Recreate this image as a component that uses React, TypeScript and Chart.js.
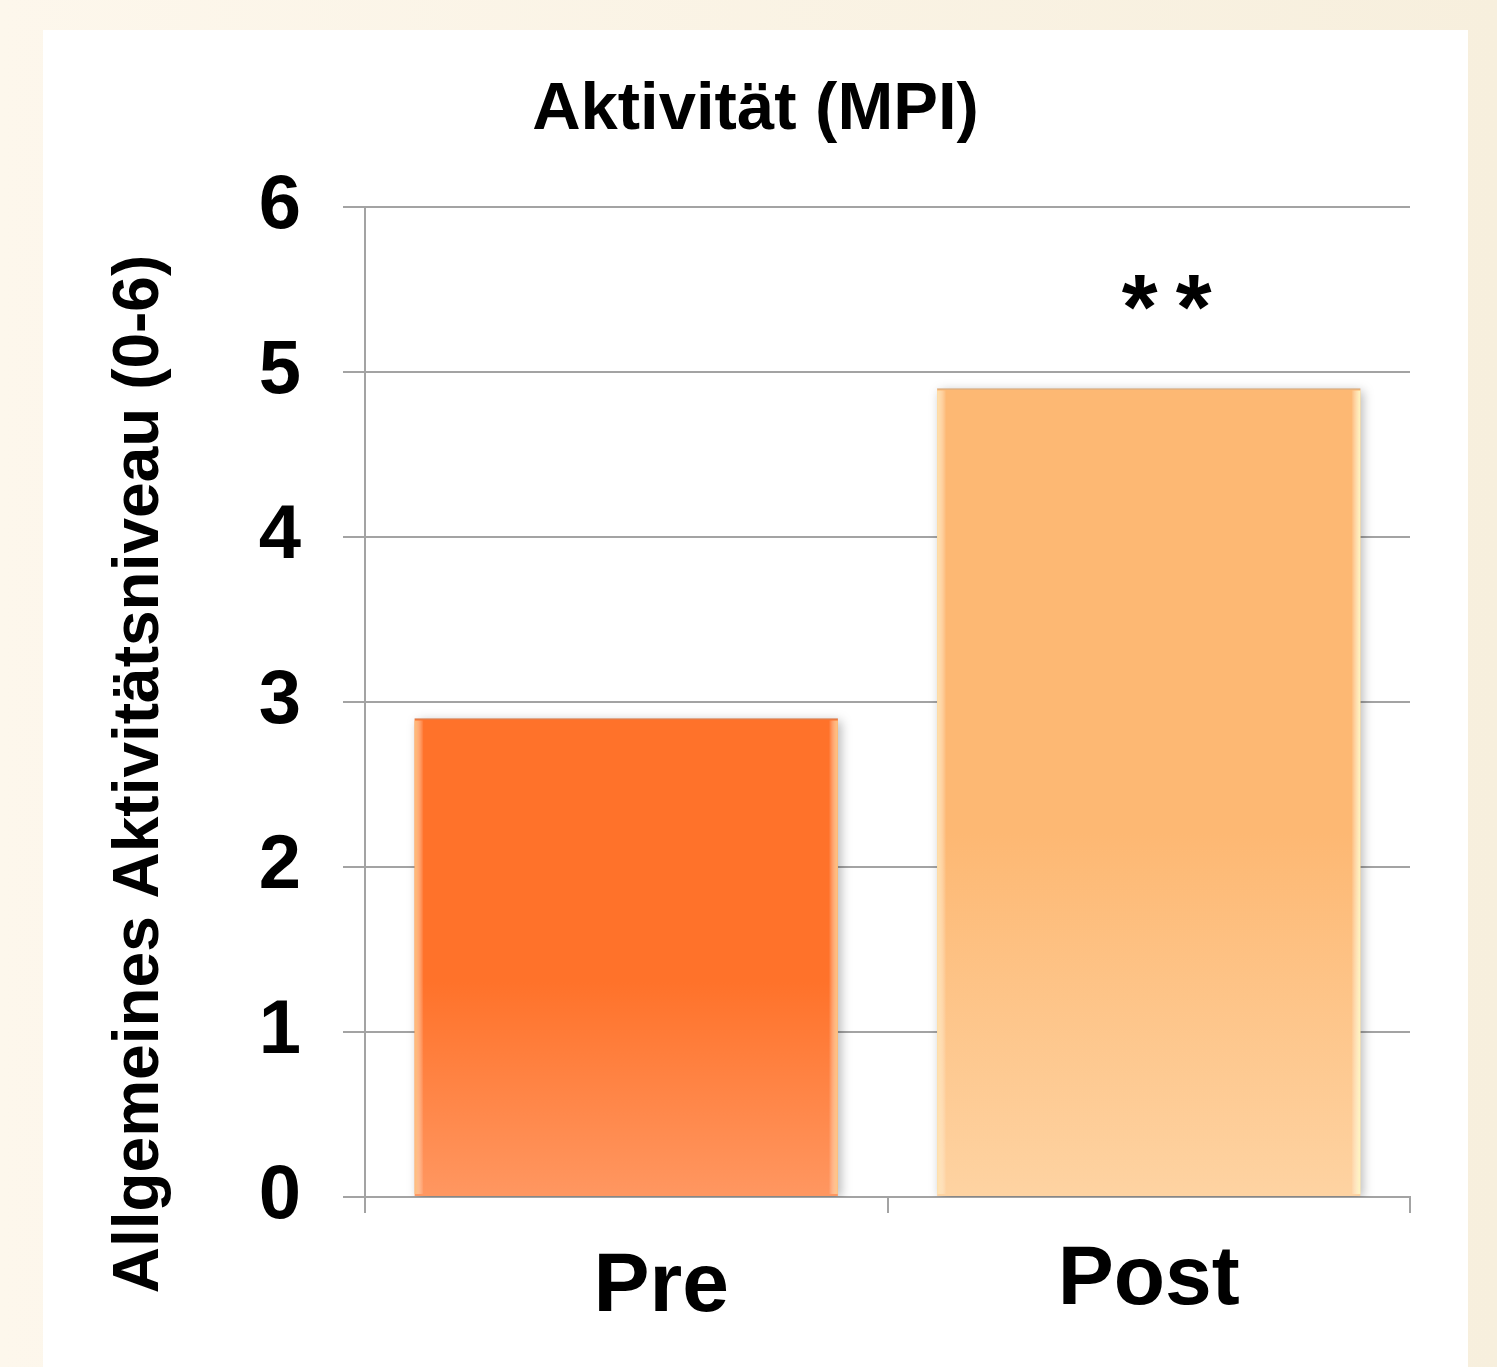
import { useEffect, useRef } from "react";
import { Chart, registerables } from "chart.js";

Chart.register(...registerables);

// ---- data ----
const CATEGORIES = ["Pre", "Post"];
const ACTIVITY = [2.9, 4.9];
const SIGNIFICANCE = ["", "**"];
const Y_TICKS = [0, 1, 2, 3, 4, 5, 6];
const CHART_TITLE = "Aktivität (MPI)";
const Y_TITLE = "Allgemeines Aktivitätsniveau (0-6)";

// ---- styling ----
const FONT = "'Liberation Sans', Arial, Helvetica, sans-serif";
const BAR_TOP = ["#ff722a", "#fdb873"];
const BAR_BOTTOM = ["#ff9761", "#fed3a2"];
const EDGE_LEFT = ["rgba(255,190,120,0.95)", "rgba(255,225,170,0.95)"];
const EDGE_RIGHT = ["rgba(255,200,130,0.95)", "rgba(255,246,190,1)"];
const GRID = "#a3a3a3";
// small per-label nudges of the category captions [dx, dy] in px
const LABEL_NUDGE = [
  [35, 3],
  [0, -4],
];

const barGradient = (chart: any, i: number) => {
  const { ctx, chartArea, scales } = chart;
  if (!chartArea || !scales.y) return BAR_TOP[i];
  const top = scales.y.getPixelForValue(ACTIVITY[i]);
  const base = scales.y.getPixelForValue(0);
  const g = ctx.createLinearGradient(0, top, 0, base);
  g.addColorStop(0, BAR_TOP[i]);
  g.addColorStop(0.55, BAR_TOP[i]);
  g.addColorStop(1, BAR_BOTTOM[i]);
  return g;
};

const decorPlugin = {
  id: "decor",
  beforeDatasetsDraw(chart: any) {
    const ctx = chart.ctx;
    ctx.save();
    ctx.shadowColor = "rgba(0,0,0,0.28)";
    ctx.shadowBlur = 10;
    ctx.shadowOffsetX = 3;
    ctx.shadowOffsetY = 2;
  },
  afterDatasetsDraw(chart: any) {
    const ctx = chart.ctx;
    ctx.restore();
    const meta = chart.getDatasetMeta(0);
    meta.data.forEach((bar: any, i: number) => {
      const { x, y, base, width } = bar.getProps(["x", "y", "base", "width"], true);
      const l = x - width / 2;
      const r = x + width / 2;
      const w = 9;
      ctx.save();
      let g = ctx.createLinearGradient(l, 0, l + w, 0);
      g.addColorStop(0, EDGE_LEFT[i]);
      g.addColorStop(1, "rgba(255,255,255,0)");
      ctx.fillStyle = g;
      ctx.fillRect(l, y + 2, w, base - y - 4);
      g = ctx.createLinearGradient(r - w, 0, r, 0);
      g.addColorStop(0, "rgba(255,255,255,0)");
      g.addColorStop(1, EDGE_RIGHT[i]);
      ctx.fillStyle = g;
      ctx.fillRect(r - w, y + 2, w, base - y - 4);
      ctx.strokeStyle = "rgba(150,150,150,0.45)";
      ctx.lineWidth = 1;
      ctx.beginPath();
      ctx.moveTo(l, y + 0.5);
      ctx.lineTo(r, y + 0.5);
      ctx.stroke();
      ctx.restore();
    });
  },
  afterDraw(chart: any) {
    const { ctx, scales } = chart;
    const xs = scales.x;
    const ys = scales.y;
    ctx.save();
    ctx.fillStyle = "#000";

    // category captions
    ctx.font = `bold 84px ${FONT}`;
    ctx.textAlign = "center";
    ctx.textBaseline = "alphabetic";
    const captionBase = ys.bottom + 111;
    CATEGORIES.forEach((c, i) => {
      const [dx, dy] = LABEL_NUDGE[i];
      ctx.fillText(c, xs.getPixelForValue(i) + dx, captionBase + dy);
    });

    // significance stars above the bars
    ctx.font = `bold 92px ${FONT}`;
    SIGNIFICANCE.forEach((s, i) => {
      if (!s) return;
      const cx = xs.getPixelForValue(i) + 18;
      const by = ys.getPixelForValue(ACTIVITY[i]) - 50;
      const step = 54;
      const start = cx - ((s.length - 1) * step) / 2;
      for (let k = 0; k < s.length; k++) ctx.fillText(s[k], start + k * step, by);
    });

    // y-axis title
    ctx.font = `bold 64px ${FONT}`;
    ctx.textBaseline = "middle";
    ctx.translate(97, 744);
    ctx.rotate(-Math.PI / 2);
    ctx.fillText(Y_TITLE, 0, 0);
    ctx.restore();
  },
};

export default function App() {
  const canvasRef = useRef<HTMLCanvasElement>(null);

  useEffect(() => {
    document.body.style.margin = "0";
    const canvas = canvasRef.current;
    if (!canvas) return;
    const chart = new Chart(canvas, {
      type: "bar",
      data: {
        labels: CATEGORIES,
        datasets: [
          {
            data: ACTIVITY,
            backgroundColor: (c: any) => barGradient(c.chart, c.dataIndex),
            borderWidth: 0,
            categoryPercentage: 1,
            barPercentage: 0.81,
          },
        ],
      },
      options: {
        animation: false,
        responsive: false,
        devicePixelRatio: 1,
        layout: { padding: { left: 58, right: 58, top: 0, bottom: 0 } },
        plugins: {
          legend: { display: false },
          tooltip: { enabled: false },
          title: {
            display: true,
            text: CHART_TITLE,
            color: "#000",
            font: { family: FONT, size: 67, weight: "bold" },
            padding: { top: 40, bottom: 56.6 },
          },
        },
        scales: {
          x: {
            offset: true,
            afterFit: (s: any) => {
              s.height = 170;
            },
            ticks: { display: false },
            grid: {
              offset: true,
              drawOnChartArea: false,
              drawTicks: true,
              tickLength: 16,
              color: GRID,
              lineWidth: 2,
            },
            border: { display: true, color: GRID, width: 2 },
          },
          y: {
            min: 0,
            max: 6,
            afterBuildTicks: (s: any) => {
              s.ticks = Y_TICKS.map((v) => ({ value: v }));
            },
            afterFit: (s: any) => {
              s.width = 264;
            },
            ticks: {
              color: "#000",
              padding: 42,
              font: { family: FONT, size: 76, weight: "bold" },
            },
            grid: {
              color: GRID,
              lineWidth: 2,
              tickLength: 22,
            },
            border: { display: true, color: GRID, width: 2 },
          },
        },
      },
      plugins: [decorPlugin],
    });
    return () => chart.destroy();
  }, []);

  return (
    <div
      style={{
        position: "relative",
        width: 1497,
        height: 1367,
        overflow: "hidden",
        background: "linear-gradient(to right, #fdf7ec, #f7efdd)",
      }}
    >
      <div
        style={{
          position: "absolute",
          left: 43,
          top: 30,
          width: 1425,
          height: 1337,
          background: "#ffffff",
        }}
      >
        <canvas ref={canvasRef} width={1425} height={1337} style={{ display: "block" }} />
      </div>
    </div>
  );
}
